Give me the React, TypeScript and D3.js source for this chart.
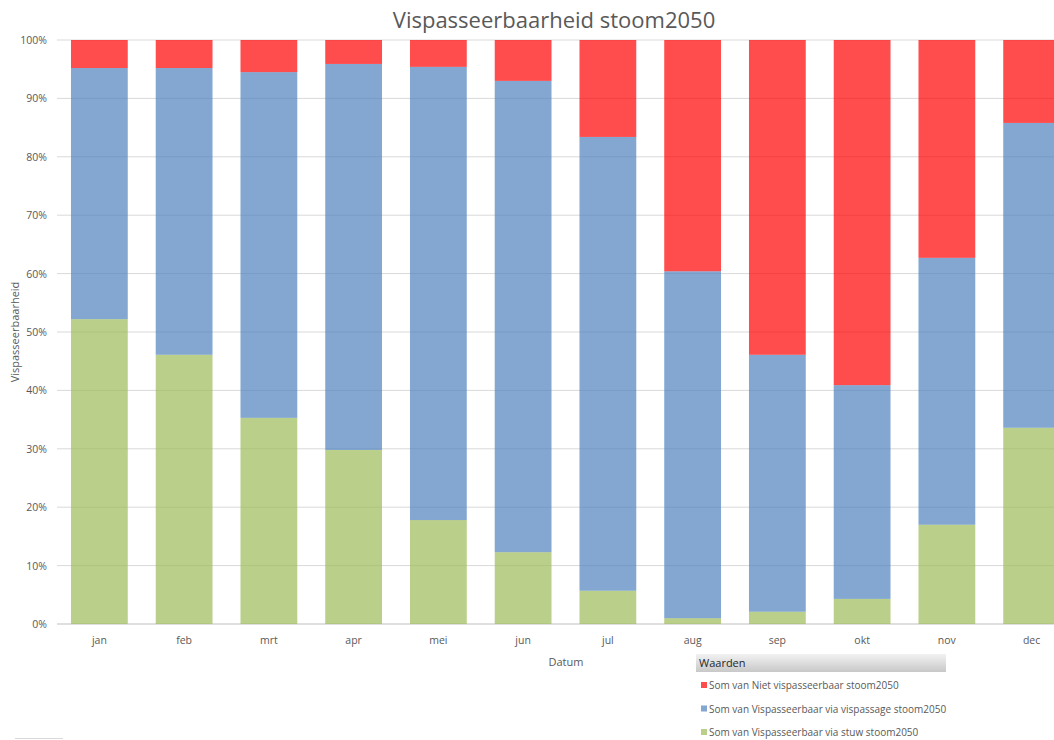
import React from "react";
import * as d3 from "d3";

// Monthly share (%) per passability category
const months = ["jan", "feb", "mrt", "apr", "mei", "jun", "jul", "aug", "sep", "okt", "nov", "dec"];
const viaStuw = [52.2, 46.1, 35.3, 29.8, 17.8, 12.3, 5.7, 1.0, 2.1, 4.3, 17.0, 33.6];
const viaVispassage = [43.0, 49.1, 59.2, 66.1, 77.6, 80.7, 77.7, 59.4, 44.0, 36.6, 45.7, 52.2];
const niet = months.map((_, i) => +(100 - viaStuw[i] - viaVispassage[i]).toFixed(1));
const yTicks = [0, 10, 20, 30, 40, 50, 60, 70, 80, 90, 100];

const seriesKeys = ["stuw", "vispassage", "niet"] as const;
const seriesColors: Record<string, string> = {
  stuw: "#9BBB59",
  vispassage: "#4F81BD",
  niet: "#FF0000",
};
const legendItems = [
  { key: "niet", label: "Som van Niet vispasseerbaar stoom2050" },
  { key: "vispassage", label: "Som van Vispasseerbaar via vispassage stoom2050" },
  { key: "stuw", label: "Som van Vispasseerbaar via stuw stoom2050" },
];

const W = 1054;
const H = 740;
const plot = { left: 57, right: 1074, top: 40, bottom: 624 };
const font = "'Open Sans', 'Liberation Sans', sans-serif";

export default function App() {
  const rows = months.map((m, i) => ({
    month: m,
    stuw: viaStuw[i],
    vispassage: viaVispassage[i],
    niet: niet[i],
  }));
  const stack = d3.stack<any>().keys(seriesKeys as unknown as string[]);
  const layers = stack(rows);

  const x = d3.scaleBand<string>().domain(months).range([plot.left, plot.right]).paddingInner(0.33).paddingOuter(0.165);
  const y = d3.scaleLinear().domain([0, 100]).range([plot.bottom, plot.top]);

  return (
    <svg width={W} height={H} style={{ position: "absolute", left: 0, top: 0, background: "#fff" }}>
      <defs>
        <linearGradient id="hdr" x1="0" y1="0" x2="0" y2="1">
          <stop offset="0" stopColor="#f2f2f2" />
          <stop offset="1" stopColor="#c8c8c8" />
        </linearGradient>
      </defs>
      <text x={554} y={28} textAnchor="middle" fontFamily={font} fontSize={22} fill="#595959">
        Vispasseerbaarheid stoom2050
      </text>

      {/* gridlines */}
      {yTicks.map((t) => (
        <g key={t}>
          <line x1={plot.left} x2={W} y1={y(t)} y2={y(t)} stroke={t === 0 ? "#bfbfbf" : "#d9d9d9"} strokeWidth={1} />
          <text x={47} y={y(t) + 4} textAnchor="end" fontFamily={font} fontSize={10.5} fill="#595959">
            {t}%
          </text>
        </g>
      ))}

      {/* stacked bars */}
      {layers.map((layer) => (
        <g key={layer.key} fill={seriesColors[layer.key]} fillOpacity={0.7}>
          {layer.map((d, i) => (
            <rect
              key={i}
              x={x(months[i])}
              width={x.bandwidth()}
              y={y(d[1])}
              height={y(d[0]) - y(d[1])}
            />
          ))}
        </g>
      ))}

      {months.map((m) => (
        <text key={m} x={(x(m) as number) + x.bandwidth() / 2} y={644} textAnchor="middle" fontFamily={font} fontSize={10.5} fill="#595959">
          {m}
        </text>
      ))}

      <text x={566} y={666} textAnchor="middle" fontFamily={font} fontSize={11} fill="#595959">
        Datum
      </text>
      <text transform="translate(19,332) rotate(-90)" textAnchor="middle" fontFamily={font} fontSize={11} fill="#595959">
        Vispasseerbaarheid
      </text>

      {/* legend */}
      <rect x={696} y={654} width={250} height={18} fill="url(#hdr)" />
      <text x={699} y={667} fontFamily={font} fontSize={11} fill="#262626">
        Waarden
      </text>
      {legendItems.map((it, i) => (
        <g key={it.key}>
          <rect x={701} y={682 + i * 23.5} width={6} height={6} fill={seriesColors[it.key]} fillOpacity={0.7} />
          <text x={709} y={689 + i * 23.5} fontFamily={font} fontSize={10} fill="#595959">
            {it.label}
          </text>
        </g>
      ))}

      <line x1={15} x2={63} y1={738.5} y2={738.5} stroke="#d9d9d9" />
    </svg>
  );
}
